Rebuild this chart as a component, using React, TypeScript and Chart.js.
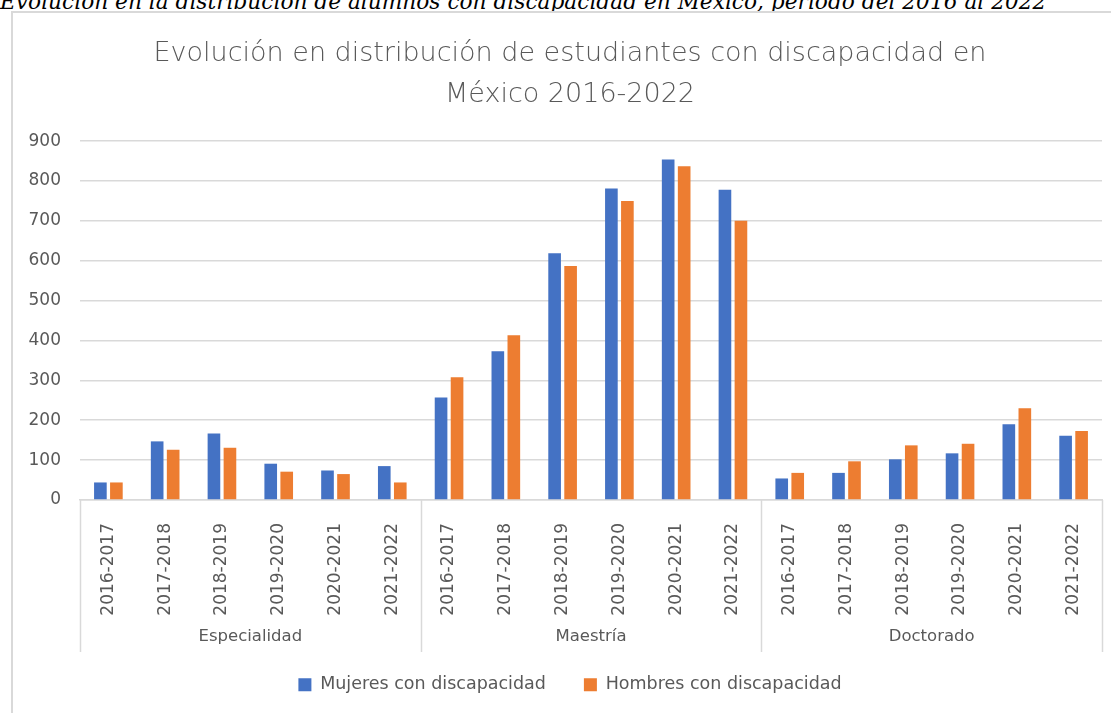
import React, { useEffect, useRef } from "react";
import { Chart, registerables } from "chart.js";

Chart.register(...registerables);

const caption =
  "Evolución en la distribución de alumnos con discapacidad en México, periodo del 2016 al 2022";
const titleLines = [
  "Evolución en distribución de estudiantes con discapacidad en",
  "México 2016-2022",
];
const periods = ["2016-2017", "2017-2018", "2018-2019", "2019-2020", "2020-2021", "2021-2022"];
const levels = ["Especialidad", "Maestría", "Doctorado"];

const mujeresEspecialidad = [44, 147, 167, 91, 74, 85];
const hombresEspecialidad = [44, 126, 131, 71, 65, 44];
const mujeresMaestria = [257, 373, 619, 781, 854, 778];
const hombresMaestria = [308, 413, 587, 750, 837, 700];
const mujeresDoctorado = [54, 68, 102, 117, 190, 161];
const hombresDoctorado = [68, 97, 137, 141, 230, 173];

const seriesNames = ["Mujeres con discapacidad", "Hombres con discapacidad"];
const yMin = 0;
const yMax = 900;
const yStep = 100;

const FONT = "'DejaVu Sans', sans-serif";
const TEXT = "#595959";
const GRID = "#d9d9d9";

// Second level of the category axis: group separators and group names
const groupAxisPlugin = {
  id: "groupAxis",
  afterDraw(chart: any) {
    const x = chart.scales.x;
    const { ctx, chartArea } = chart;
    const n = periods.length;
    const bounds: number[] = [chartArea.left];
    for (let g = 1; g < levels.length; g++) {
      const i = g * n;
      bounds.push((x.getPixelForTick(i - 1) + x.getPixelForTick(i)) / 2);
    }
    bounds.push(chartArea.right);
    ctx.save();
    ctx.strokeStyle = GRID;
    ctx.lineWidth = 1.5;
    const yEnd = chartArea.bottom + 152;
    bounds.forEach((bx) => {
      ctx.beginPath();
      ctx.moveTo(Math.round(bx) + 0.5, chartArea.bottom);
      ctx.lineTo(Math.round(bx) + 0.5, yEnd);
      ctx.stroke();
    });
    ctx.fillStyle = TEXT;
    ctx.font = `16.5px ${FONT}`;
    ctx.textAlign = "center";
    ctx.textBaseline = "middle";
    levels.forEach((name, g) => {
      ctx.fillText(name, (bounds[g] + bounds[g + 1]) / 2, chartArea.bottom + 137);
    });
    ctx.restore();
  },
};

export default function App() {
  const ref = useRef<HTMLCanvasElement | null>(null);

  useEffect(() => {
    if (!ref.current) return;
    const labels = levels.flatMap(() => periods);
    const mujeres = [...mujeresEspecialidad, ...mujeresMaestria, ...mujeresDoctorado];
    const hombres = [...hombresEspecialidad, ...hombresMaestria, ...hombresDoctorado];
    const chart = new Chart(ref.current, {
      type: "bar",
      data: {
        labels,
        datasets: [
          {
            label: seriesNames[0],
            data: mujeres,
            backgroundColor: "#4472C4",
            categoryPercentage: 0.5636,
            barPercentage: 0.79,
          },
          {
            label: seriesNames[1],
            data: hombres,
            backgroundColor: "#ED7D31",
            categoryPercentage: 0.5636,
            barPercentage: 0.79,
          },
        ],
      },
      options: {
        animation: false,
        responsive: false,
        maintainAspectRatio: false,
        layout: { padding: { left: 0, right: 0, top: 0, bottom: 9.5 } },
        plugins: {
          title: {
            display: true,
            text: titleLines,
            color: TEXT,
            font: { family: FONT, size: 27, weight: "200" as any, lineHeight: 1.52 },
            padding: { top: 20, bottom: 26 },
          },
          legend: {
            position: "bottom",
            labels: {
              boxWidth: 13,
              boxHeight: 13,
              color: TEXT,
              font: { family: FONT, size: 17.5 },
              padding: 38,
            },
          },
          tooltip: { enabled: false },
        },
        scales: {
          x: {
            type: "category",
            grid: { display: false },
            border: { color: GRID, width: 1.5 },
            ticks: {
              minRotation: 90,
              maxRotation: 90,
              autoSkip: false,
              color: TEXT,
              font: { family: FONT, size: 17 },
              padding: 15,
            },
            afterFit: (s: any) => {
              s.height = 138;
            },
          },
          y: {
            min: yMin,
            max: yMax,
            ticks: {
              stepSize: yStep,
              color: TEXT,
              font: { family: FONT, size: 17 },
              padding: 19,
            },
            grid: { color: GRID, lineWidth: 1.5, drawTicks: false },
            border: { display: false },
            afterFit: (s: any) => {
              s.width = 67;
            },
          },
          yRight: {
            type: "linear",
            position: "right",
            display: true,
            ticks: { display: false },
            grid: { display: false, drawTicks: false },
            border: { display: false },
            afterFit: (s: any) => {
              s.width = 25;
            },
          },
        },
      } as any,
      plugins: [groupAxisPlugin],
    });
    return () => chart.destroy();
  }, []);

  return (
    <div
      style={{
        position: "absolute",
        left: 0,
        top: 0,
        width: 1111,
        height: 713,
        overflow: "hidden",
        background: "#fff",
      }}
    >
      <div
        style={{
          position: "absolute",
          left: 0,
          top: -10,
          whiteSpace: "nowrap",
          fontFamily: "'DejaVu Serif', serif",
          fontStyle: "italic",
          fontSize: 21.7,
          lineHeight: "24px",
          color: "#000",
        }}
      >
        {caption}
      </div>
      <div
        style={{
          position: "absolute",
          left: 11,
          top: 11,
          width: 1114,
          height: 710,
          border: `2px solid ${GRID}`,
          background: "#fff",
        }}
      >
        <canvas ref={ref} width={1114} height={700} style={{ display: "block" }} />
      </div>
    </div>
  );
}
